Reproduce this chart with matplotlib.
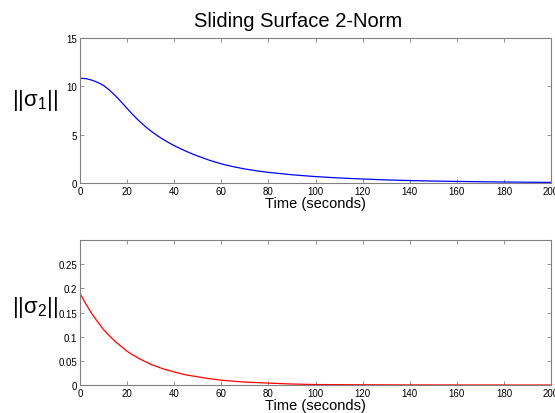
import matplotlib
matplotlib.use("Agg")
import matplotlib.pyplot as plt

plt.rcParams["font.family"] = ["Liberation Sans", "DejaVu Sans"]
plt.rcParams["mathtext.fontset"] = "custom"
plt.rcParams["mathtext.rm"] = "Liberation Sans"
plt.rcParams["mathtext.it"] = "Liberation Sans"
plt.rcParams["mathtext.sf"] = "Liberation Sans"

# sigma_1 norm
t1 = [0, 2.5, 5, 7.5, 10, 12.5, 15, 17.5, 20, 22.5, 25, 27.5, 30, 32.5, 35, 37.5, 40, 42.5, 45,
      47.5, 50, 55, 60, 65, 70, 75, 80, 90, 100, 110, 120, 130, 140, 150, 160, 170, 180, 190, 200]
sigma1 = [10.85, 10.8, 10.65, 10.42, 10.1, 9.62, 9.05, 8.4, 7.72, 7.06, 6.45, 5.9, 5.4, 4.96, 4.56,
          4.2, 3.87, 3.57, 3.29, 3.03, 2.79, 2.35, 1.98, 1.69, 1.45, 1.26, 1.1, 0.85, 0.66, 0.52, 0.41,
          0.32, 0.25, 0.2, 0.16, 0.13, 0.1, 0.08, 0.06]

# sigma_2 norm
t2 = [0, 2.5, 5, 7.5, 10, 12.5, 15, 17.5, 20, 22.5, 25, 27.5, 30, 35, 40, 45, 50, 55, 60, 70, 80,
      90, 100, 110, 120, 140, 160, 180, 200]
sigma2 = [0.19, 0.168, 0.148, 0.131, 0.115, 0.102, 0.09, 0.08, 0.07, 0.062, 0.055, 0.049, 0.043,
          0.034, 0.027, 0.021, 0.017, 0.013, 0.01, 0.006, 0.004, 0.002, 0.001, 0.0007, 0.0005,
          0.0002, 0.0001, 0.0, 0.0]

x_ticks = list(range(0, 201, 20))
y1_ticks = [0, 5, 10, 15]
y2_ticks = [0, 0.05, 0.1, 0.15, 0.2, 0.25]
y2_labels = ["0", "0.05", "0.1", "0.15", "0.2", "0.25"]

fig = plt.figure(figsize=(5.55, 4.14), dpi=100)
ax1 = fig.add_axes([0.144, 0.5556, 0.849, 0.350])
ax2 = fig.add_axes([0.144, 0.0676, 0.849, 0.350])

ax1.plot(t1, sigma1, color="#0000ff", lw=0.9)
ax2.plot(t2, sigma2, color="#ff0000", lw=0.9)

for ax in (ax1, ax2):
    ax.set_xlim(0, 200)
    ax.set_xticks(x_ticks)
    ax.tick_params(direction="in", top=True, right=True, length=3, width=0.6,
                   colors="#808080", labelcolor="black", labelsize=7, pad=2)
    for sp in ax.spines.values():
        sp.set_color("#808080")
        sp.set_linewidth(0.8)
    ax.set_xlabel("Time (seconds)", fontsize=10.5, labelpad=0)

ax1.set_ylim(0, 15)
ax1.set_yticks(y1_ticks)
ax2.set_ylim(0, 0.3)
ax2.set_yticks(y2_ticks)
ax2.set_yticklabels(y2_labels)

fig.text(0.063, 0.757, r"$||\sigma_1||$", fontsize=16, ha="center", va="center")
fig.text(0.063, 0.257, r"$||\sigma_2||$", fontsize=16, ha="center", va="center")
fig.text(0.537, 0.948, "Sliding Surface 2-Norm", fontsize=14.5, ha="center", va="center")

fig.savefig("out.png", dpi=100)
